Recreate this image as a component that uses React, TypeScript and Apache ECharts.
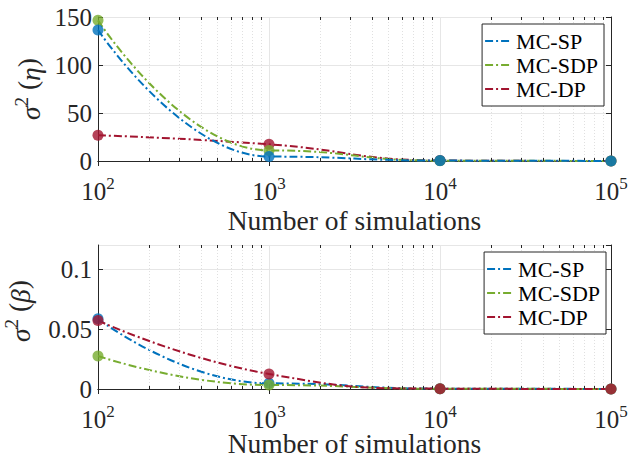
import React, { useEffect, useRef } from "react";
import * as echarts from "echarts";

const simulations = [100, 1000, 10000, 100000];
const seriesNames = ["MC-SP", "MC-SDP", "MC-DP"];
const etaSP = [136.5, 4.6, 0.4, 0];
const etaSDP = [146.5, 11, 0.3, 0];
const etaDP = [26.8, 17.4, 0.5, 0];
const betaSP = [0.0585, 0.0047, 0.0003, 0];
const betaSDP = [0.0275, 0.0033, 0.0002, 0];
const betaDP = [0.057, 0.0125, 0.0003, 0];
const minorX = [200, 300, 400, 500, 600, 700, 800, 900, 2000, 3000, 4000, 5000, 6000, 7000, 8000, 9000, 20000, 30000, 40000, 50000, 60000, 70000, 80000, 90000];
const etaAxis = { min: 0, max: 150, interval: 50 };
const betaAxis = { min: 0, max: 0.12, interval: 0.05 };

const colors = ["#0072BD", "#77AC30", "#A2142F"];
const monotone = ["x", "x", "none"];
const FONT = "'Liberation Serif', 'Times New Roman', serif";
const AX = "#262626";
const GRID_H = 144;
const MINOR_TICK_PX = 3;

export default function App() {
  const ref = useRef<HTMLDivElement>(null);
  useEffect(() => {
    if (!ref.current) return;
    const chart = echarts.init(ref.current, undefined, { renderer: "svg" });
    const grids = [
      { left: 98, width: 513, top: 17, height: GRID_H, outerBoundsMode: "none", containLabel: false },
      { left: 98, width: 513, top: 245, height: GRID_H, outerBoundsMode: "none", containLabel: false },
    ];
    const xFmt = (v: number) => `{b|10}{s|${Math.round(Math.log10(v))}}`;
    const xRich = {
      b: { fontSize: 25, fontFamily: FONT, color: AX, verticalAlign: "bottom" },
      s: { fontSize: 17, fontFamily: FONT, color: AX, verticalAlign: "bottom", padding: [0, 0, 12, 0] },
    };
    const xAxes: any[] = [];
    const yAxes: any[] = [];
    [0, 1].forEach((g) => {
      xAxes.push({
        type: "log", logBase: 10, min: 100, max: 100000, gridIndex: g,
        position: "bottom",
        axisLine: { show: true, lineStyle: { color: AX, width: 1 } },
        axisTick: { show: true, inside: true, length: 5, lineStyle: { color: AX } },
        axisLabel: { formatter: xFmt, rich: xRich, margin: 14, fontFamily: FONT },
        splitLine: { show: true, lineStyle: { color: "#e6e6e6", width: 1 } },
        name: "Number of simulations", nameLocation: "middle", nameGap: g === 0 ? 50 : 45,
        nameMoveOverlap: false,
        nameTextStyle: { fontFamily: FONT, fontSize: 27.5, color: AX, lineHeight: 18 },
      });
      xAxes.push({
        type: "log", logBase: 10, min: 100, max: 100000, gridIndex: g,
        position: "top",
        axisLine: { show: true, lineStyle: { color: AX, width: 1 } },
        axisTick: { show: true, inside: true, length: 5, lineStyle: { color: AX } },
        axisLabel: { show: false }, splitLine: { show: false },
      });
      const rng = g === 0 ? etaAxis : betaAxis;
      yAxes.push({
        type: "value", gridIndex: g, position: "left", ...rng,
        axisLine: { show: true, lineStyle: { color: AX, width: 1 } },
        axisTick: { show: true, inside: true, length: 5, lineStyle: { color: AX } },
        axisLabel: { fontFamily: FONT, fontSize: 25, color: AX, margin: 6, showMaxLabel: g === 0 },
        splitLine: { show: true, lineStyle: { color: "#e6e6e6", width: 1 } },
        name: g === 0 ? "{i|σ}{s|2} ({i|η})" : "{i|σ}{s|2} ({i|β})",
        nameLocation: "middle", nameGap: g === 0 ? 47 : 64, nameRotate: 90,
        nameTextStyle: {
          fontFamily: FONT, fontSize: 27.5, color: AX, padding: g === 0 ? [0, 0, 0, 0] : [0, 0, 0, 12],
          rich: {
            i: { fontFamily: FONT, fontSize: 27.5, fontStyle: "italic", color: AX, verticalAlign: "bottom" },
            s: { fontFamily: FONT, fontSize: 19, color: AX, verticalAlign: "bottom", padding: [0, 0, 13, 0] },
          },
        },
      });
      yAxes.push({
        type: "value", gridIndex: g, position: "right", ...rng,
        axisLine: { show: true, lineStyle: { color: AX, width: 1 } },
        axisTick: { show: true, inside: true, length: 5, lineStyle: { color: AX } },
        axisLabel: { show: false }, splitLine: { show: false },
      });
    });

    const data = [
      [etaSP, etaSDP, etaDP],
      [betaSP, betaSDP, betaDP],
    ];
    const series: any[] = [];
    [0, 1].forEach((g) => {
      const rng = g === 0 ? etaAxis : betaAxis;
      const tk = ((rng.max - rng.min) / GRID_H) * MINOR_TICK_PX;
      series.push({
        type: "line", data: [], xAxisIndex: g * 2, yAxisIndex: g * 2, silent: true, z: 1,
        markLine: {
          silent: true, symbol: "none", label: { show: false }, animation: false,
          lineStyle: { color: "#e0e0e0", type: [1, 2], width: 1 },
          data: minorX.map((v) => ({ xAxis: v })),
        },
      });
      series.push({
        type: "line", data: [], xAxisIndex: g * 2, yAxisIndex: g * 2, silent: true, z: 2,
        markLine: {
          silent: true, symbol: "none", label: { show: false }, animation: false,
          lineStyle: { color: AX, type: "solid", width: 1 },
          data: minorX.flatMap((v) => [
            [{ coord: [v, rng.min] }, { coord: [v, rng.min + tk] }],
            [{ coord: [v, rng.max] }, { coord: [v, rng.max - tk] }],
          ]),
        },
      });
      const order = g === 0 ? [2, 1, 0] : [0, 1, 2];
      order.forEach((k, j) => {
        const pts = simulations.map((x, i) => [x, data[g][k][i]]);
        series.push({
          type: "line", name: seriesNames[k], xAxisIndex: g * 2, yAxisIndex: g * 2,
          data: pts, smooth: 0.5, smoothMonotone: monotone[k], symbol: "none",
          lineStyle: { color: colors[k], width: 2, type: [8, 3, 2, 3] },
          itemStyle: { color: colors[k] }, z: 3 + j,
        });
        series.push({
          type: "scatter", xAxisIndex: g * 2, yAxisIndex: g * 2,
          data: pts, symbol: "circle", symbolSize: 11,
          itemStyle: { color: colors[k] }, z: 10 + j,
        });
      });
    });

    const legendCommon = {
      orient: "vertical", data: seriesNames, itemWidth: 26, itemHeight: 14, itemGap: 2,
      backgroundColor: "#fff", borderColor: AX, borderWidth: 1, borderRadius: 0,
      padding: [6, 6, 6, 2], selectedMode: false, z: 20,
      itemStyle: { opacity: 0 },
      textStyle: { fontFamily: FONT, fontSize: 22, color: "#000", lineHeight: 22 },
    };
    chart.setOption({
      animation: false,
      textStyle: { fontFamily: FONT },
      grid: grids,
      xAxis: xAxes,
      yAxis: yAxes,
      legend: [
        { ...legendCommon, right: 31, top: 24 },
        { ...legendCommon, right: 29, top: 252 },
      ],
      series,
    });
    return () => chart.dispose();
  }, []);
  return <div ref={ref} style={{ width: 635, height: 455, position: "absolute", left: 0, top: 0, background: "#fff" }} />;
}
